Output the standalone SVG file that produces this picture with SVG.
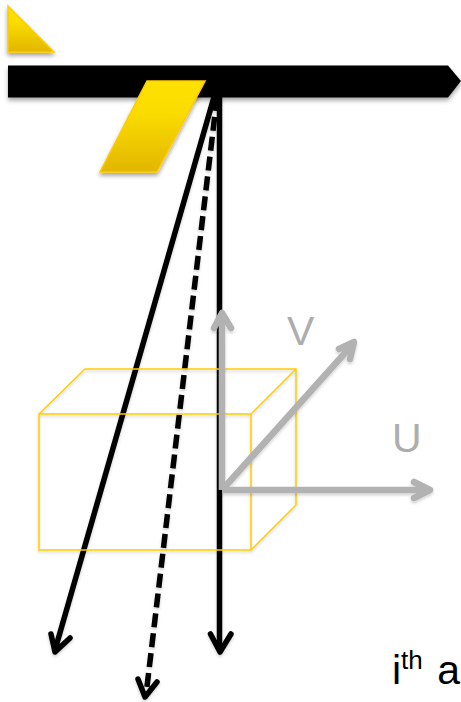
<svg xmlns="http://www.w3.org/2000/svg" width="461" height="702" viewBox="0 0 461 702">
<style>
.y{stroke:#FFCC00;stroke-width:1.5;stroke-linejoin:miter;fill:url(#g)}
.box{fill:none;stroke:#FFCC00;stroke-width:1.5}
.k{fill:none;stroke:#000;stroke-width:5.5}
.h{fill:none;stroke:#000;stroke-width:5.500;stroke-linecap:round;stroke-linejoin:round}
.a{fill:none;stroke:#B2B2B2;stroke-width:6.5}
.ah{fill:none;stroke:#B2B2B2;stroke-width:6.5;stroke-linecap:round;stroke-linejoin:round}
.t{font-family:"Liberation Sans",Arial,sans-serif}
</style>
<defs>
<linearGradient id="g" x1="0" y1="0" x2="0" y2="1"><stop offset="0" stop-color="#FFE100"/><stop offset="0.35" stop-color="#FADC00"/><stop offset="1" stop-color="#E2B600"/></linearGradient>
<filter id="s" x="-20%" y="-20%" width="140%" height="150%"><feDropShadow dx="0" dy="3" stdDeviation="2" flood-color="#000" flood-opacity="0.35"/></filter>
<filter id="s2" x="-20%" y="-20%" width="140%" height="140%"><feDropShadow dx="0" dy="2" stdDeviation="1.5" flood-color="#000" flood-opacity="0.18"/></filter>
</defs>
<g id="bar"><path d="M8 65.500H448L461 81L448 97.500H8Z" fill="#000" filter="url(#s)"/></g>
<g id="connectors">
<g filter="url(#s2)">
<path class="k" d="M219.500 97V650"/>
<path class="h" d="M210.500 634L220 652L231 634"/>
<path class="k" d="M214 97L55 650"/>
<path class="h" d="M51 634L55 652L70 638"/>
<path class="k" d="M217 97L146 695" stroke-dasharray="14 6"/>
<path class="h" d="M138 679L145 697L157 682"/>
</g>
</g>
<g id="triangle"><path class="y" d="M8 6V52H54Z" filter="url(#s)"/></g>
<g id="parallelogram"><path class="y" d="M147 81H205L157 172H100Z" filter="url(#s)"/></g>
<g id="cuboid" filter="url(#s2)">
<path class="box" d="M39 414H251V550H39ZM39 414L85 369H296V505L251 550M251 414L296 369"/>
</g>
<g id="axes" filter="url(#s2)">
<path class="a" d="M222 490V314"/><path class="ah" d="M214 328L222 313L231 328"/>
<path class="a" d="M222 490L353 344"/><path class="ah" d="M339 349L354 342L350 359"/>
<path class="a" d="M222 490H428"/><path class="ah" d="M414 482L430 490L414 498"/>
</g>
<g id="labels">
<text class="t" x="287" y="345" font-size="41" fill="#ADADAD">V</text>
<text class="t" x="392" y="452" font-size="41" fill="#ADADAD">U</text>
<text class="t" x="392" y="684" font-size="41" fill="#000">i<tspan font-size="26" dy="-15">th</tspan><tspan dy="15" dx="3"> a</tspan></text>
</g>
</svg>
